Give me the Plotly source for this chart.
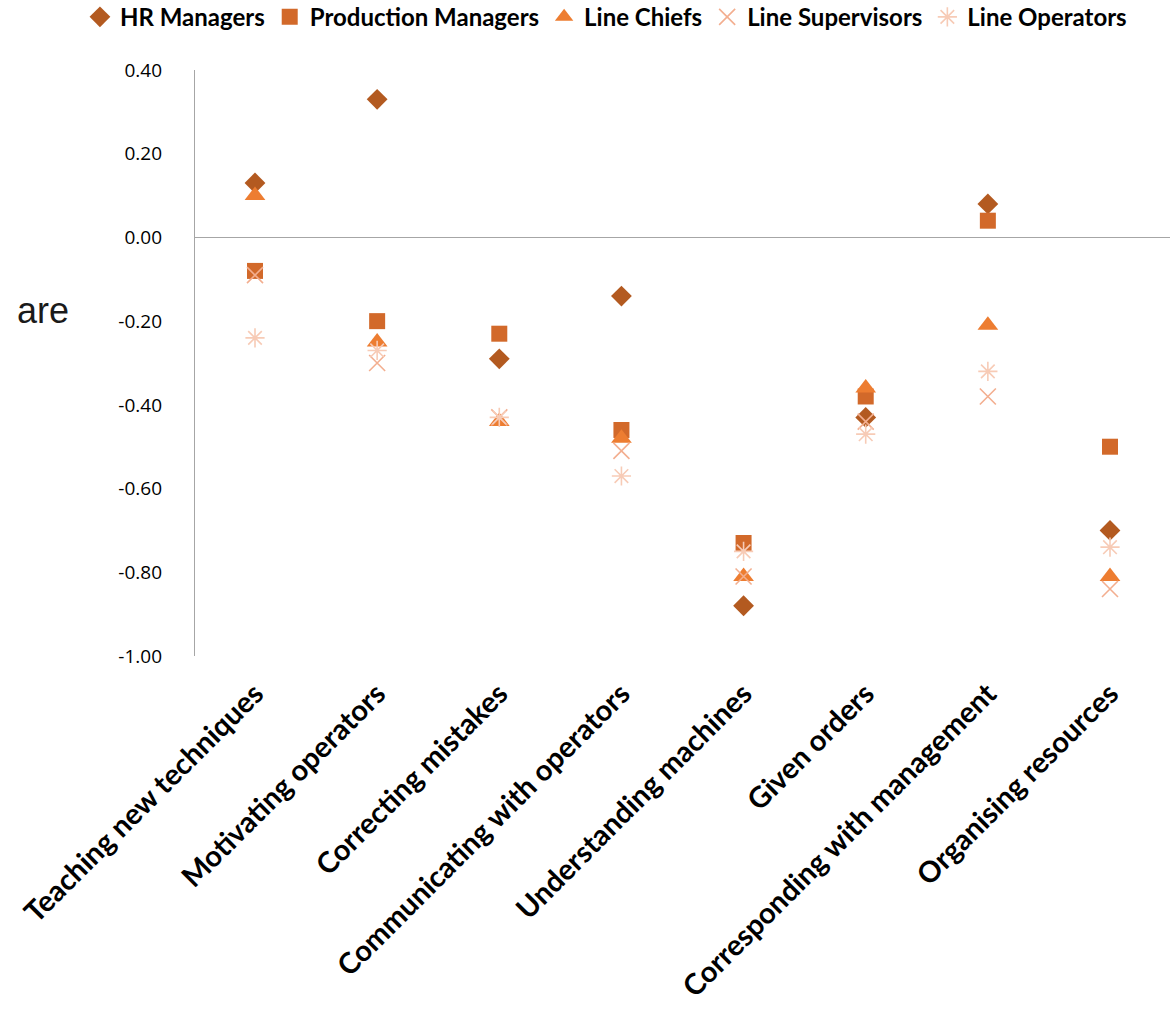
import plotly.graph_objects as go

categories = [
    "Teaching new techniques",
    "Motivating operators",
    "Correcting mistakes",
    "Communicating with operators",
    "Understanding machines",
    "Given orders",
    "Corresponding with management",
    "Organising resources",
]

hr_managers = [0.13, 0.33, -0.29, -0.14, -0.88, -0.43, 0.08, -0.70]
production_managers = [-0.08, -0.20, -0.23, -0.46, -0.73, -0.38, 0.04, -0.50]
line_chiefs = [0.10, -0.25, -0.44, -0.48, -0.81, -0.36, -0.21, -0.81]
line_supervisors = [-0.09, -0.30, -0.43, -0.51, -0.81, -0.44, -0.38, -0.84]
line_operators = [-0.24, -0.27, -0.43, -0.57, -0.75, -0.47, -0.32, -0.74]

y_ticks = [0.4, 0.2, 0.0, -0.2, -0.4, -0.6, -0.8, -1.0]
y_tick_text = [f"{v:.2f}" for v in y_ticks]

series = [
    ("HR Managers", hr_managers, "diamond", "#B35A20", 16, 0),
    ("Production Managers", production_managers, "square", "#D2692A", 16, 0),
    ("Line Chiefs", line_chiefs, "triangle-up", "#ED7D31", 18, 0),
    ("Line Supervisors", line_supervisors, "x-thin-open", "#F3AE8F", 16, 1.6),
    ("Line Operators", line_operators, "asterisk-open", "#F7CBB6", 16, 1.6),
]

fig = go.Figure()
for name, vals, symbol, color, size, lw in series:
    marker = dict(symbol=symbol, size=size, color=color)
    if lw:
        marker["line"] = dict(color=color, width=lw)
    else:
        marker["line"] = dict(width=0)
    fig.add_trace(go.Scatter(
        x=categories, y=vals, mode="markers", name=name, marker=marker,
    ))

fig.update_layout(
    width=1176, height=1010,
    margin=dict(l=195, r=6, t=70, b=354, autoexpand=False),
    paper_bgcolor="white", plot_bgcolor="white",
    showlegend=True,
    legend=dict(
        orientation="h", xref="paper", yref="paper",
        x=-0.118, xanchor="left", y=1.09, yanchor="middle",
        font=dict(family="Lato", size=24, color="#000000", weight="bold"),
        itemwidth=30, tracegroupgap=0,
    ),
    font=dict(family="Open Sans", color="#000000"),
)

fig.update_xaxes(
    type="category", showgrid=False, showline=False, zeroline=False,
    ticks="", tickangle=-45, ticklabelstandoff=14,
    tickfont=dict(family="Lato", size=29, color="#000000", weight="bold"),
)
fig.update_yaxes(
    range=[-1.0, 0.4], tickvals=y_ticks, ticktext=y_tick_text,
    showgrid=False, showline=True, linecolor="#A6A6A6", linewidth=1.3,
    zeroline=True, zerolinecolor="#A6A6A6", zerolinewidth=1.3,
    ticks="", ticklabelstandoff=28,
    tickfont=dict(family="Open Sans", size=19, color="#000000"),
)

fig.add_annotation(
    text="are", xref="paper", yref="paper", x=-0.185, y=0.59,
    xanchor="left", yanchor="middle", showarrow=False,
    font=dict(family="Liberation Sans", size=36, color="#1A1A1A"),
)

fig.write_html("out.html")
